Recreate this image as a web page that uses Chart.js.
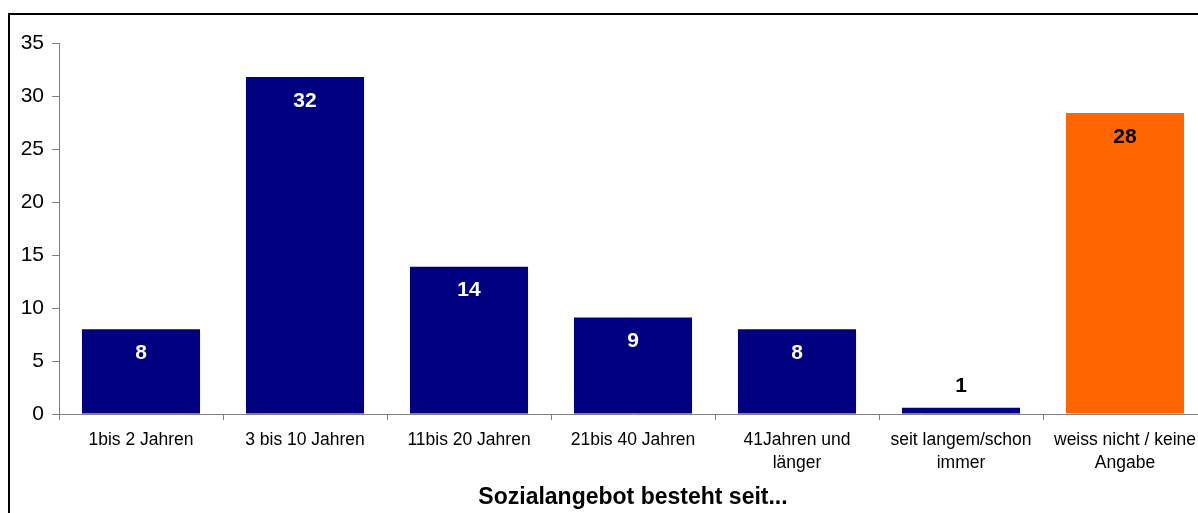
<!DOCTYPE html>
<html>
<head>
<meta charset="utf-8">
<script src="https://cdn.jsdelivr.net/npm/chart.js@4"></script>
<style>
html,body{margin:0;padding:0;background:#fff;overflow:hidden;width:1198px;height:513px;}
#frame{position:absolute;left:8px;top:13px;width:1250px;height:560px;border-left:2px solid #000;border-top:2px solid #000;box-sizing:border-box;}
#wrap{position:absolute;left:0;top:0;width:1230px;height:530px;}
</style>
</head>
<body>
<div id="frame"></div>
<div id="wrap"><canvas id="c" width="1230" height="530"></canvas></div>
<script>
const categories = [
  "1bis 2 Jahren",
  "3 bis 10 Jahren",
  "11bis 20 Jahren",
  "21bis 40 Jahren",
  ["41Jahren und", "länger"],
  ["seit langem/schon", "immer"],
  ["weiss nicht / keine", "Angabe"]
];
const values = [8.0, 31.8, 13.9, 9.1, 8.0, 0.6, 28.4];
const valueLabels = ["8", "32", "14", "9", "8", "1", "28"];
const barColors = ["#000080", "#000080", "#000080", "#000080", "#000080", "#000080", "#FF6600"];
const labelColors = ["#ffffff", "#ffffff", "#ffffff", "#ffffff", "#ffffff", "#000000", "#000000"];
const yTicks = [0, 5, 10, 15, 20, 25, 30, 35];
const axisTitle = "Sozialangebot besteht seit...";

const FONT = "'Liberation Sans', Arial, sans-serif";

const valueLabelPlugin = {
  id: 'valueLabels',
  afterDatasetsDraw(chart) {
    const ctx = chart.ctx;
    const meta = chart.getDatasetMeta(0);
    ctx.save();
    ctx.font = "bold 21px " + FONT;
    ctx.textAlign = 'center';
    ctx.textBaseline = 'middle';
    meta.data.forEach((bar, i) => {
      const h = bar.base - bar.y;
      let y;
      if (h > 40) { y = bar.y + 24; } else { y = bar.y - 21; }
      ctx.fillStyle = labelColors[i];
      ctx.fillText(valueLabels[i], bar.x, y);
    });
    ctx.restore();
  }
};

new Chart(document.getElementById('c'), {
  type: 'bar',
  data: {
    labels: categories,
    datasets: [{
      data: values,
      backgroundColor: barColors,
      borderWidth: 0,
      categoryPercentage: 1.0,
      barPercentage: 0.72
    }]
  },
  options: {
    responsive: false,
    animation: false,
    devicePixelRatio: 1,
    layout: { padding: { top: 43, right: 23, bottom: 19, left: 0 } },
    plugins: { legend: { display: false }, tooltip: { enabled: false }, title: { display: false } },
    scales: {
      x: {
        grid: { display: true, drawOnChartArea: false, drawTicks: true, tickLength: 6, color: '#808080', offset: true, tickColor: '#808080' },
        border: { display: true, color: '#808080', width: 1 },
        ticks: { color: '#000', font: { family: FONT, size: 17.5, lineHeight: 1.3 }, maxRotation: 0, autoSkip: false, padding: 9 },
        title: { display: true, text: axisTitle, color: '#000', font: { family: FONT, size: 23, weight: 'bold' }, padding: { top: 0, bottom: 0 } },
        afterFit(scale) { scale.height = 97; }
      },
      y: {
        min: 0, max: 35,
        afterBuildTicks(scale) { scale.ticks = yTicks.map(v => ({ value: v })); },
        grid: { display: true, drawOnChartArea: false, drawTicks: true, tickLength: 7, color: '#808080', tickColor: '#808080' },
        border: { display: true, color: '#808080', width: 1 },
        ticks: { color: '#000', font: { family: FONT, size: 21 }, padding: 8 },
        afterFit(scale) { scale.width = 59; }
      }
    }
  },
  plugins: [valueLabelPlugin]
});
</script>
</body>
</html>
